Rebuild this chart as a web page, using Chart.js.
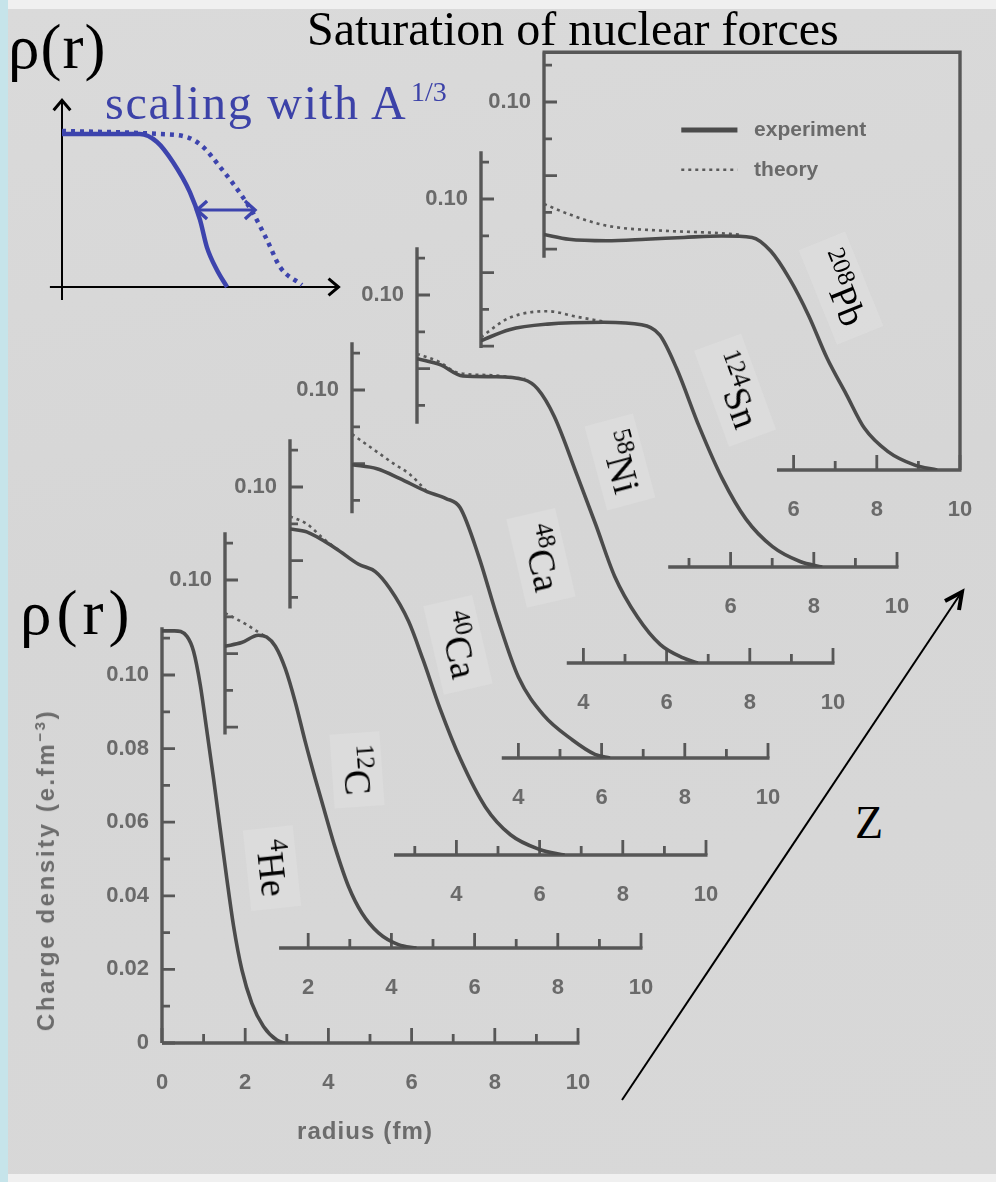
<!DOCTYPE html>
<html>
<head>
<meta charset="utf-8">
<title>Saturation of nuclear forces</title>
<script src="https://cdn.jsdelivr.net/npm/chart.js@4.4.1/dist/chart.umd.min.js"></script>
<style>
  html, body { margin: 0; padding: 0; }
  body { width: 996px; height: 1182px; position: relative; overflow: hidden; background: #f0f0f0; }
  #paper { position: absolute; left: 8px; top: 9px; right: 0; bottom: 8px;
           background: linear-gradient(170deg, #dadada 0%, #d6d6d6 45%, #d8d8d8 100%); }
  #edge { position: absolute; left: 0; top: 0; width: 8px; height: 1182px; background: #c6e4ea; }
  canvas.panel { position: absolute; filter: blur(0.55px); }
  .serif { position: absolute; font-family: "Liberation Serif", "Times New Roman", serif; line-height: 1; white-space: nowrap; color: #000; }
  .blue { color: #3c42a8; }
  .nuc { position: absolute; font-family: "Liberation Serif", "Times New Roman", serif; font-size: 38px; line-height: 1;
         white-space: nowrap; background: rgba(226,226,226,0.45); padding: 6px 12px; }
  .nuc sup { font-size: 25px; vertical-align: 0.55em; line-height: 0; }
  .scan { position: absolute; font-family: "Liberation Sans", Arial, sans-serif; color: #6c6c6c; font-weight: bold;
          line-height: 1; white-space: nowrap; filter: blur(0.6px); }
</style>
</head>
<body>
<div id="edge"></div>
<div id="paper"></div>
<div id="stage"></div>

<div class="scan" style="left:45px;top:870px;font-size:24px;letter-spacing:2.6px;transform:translate(-50%,-50%) rotate(-90deg);">Charge density (e.fm<sup style="font-size:15px">&minus;3</sup>)</div>
<div class="scan" style="left:365px;top:1131px;font-size:24px;letter-spacing:1.1px;transform:translate(-50%,-50%);">radius (fm)</div>

<canvas id="inset" class="panel" style="left:40px;top:90px;filter:none" width="330" height="225"></canvas>

<div class="serif" style="left:307px;top:5px;font-size:48px;">Saturation of nuclear forces</div>
<div class="serif" style="left:8px;top:16px;font-size:63px;letter-spacing:1px;">&rho;(r)</div>
<div class="serif" style="left:20px;top:582px;font-size:63px;letter-spacing:5px;">&rho;(r)</div>
<div class="serif blue" style="left:105px;top:79px;font-size:48px;letter-spacing:1.8px;">scaling with A</div>
<div class="serif blue" style="left:411px;top:78px;font-size:28px;">1/3</div>
<div class="serif" style="left:855px;top:800px;font-size:46px;">Z</div>

<div class="nuc" style="left:272px;top:868px;transform:translate(-50%,-50%) rotate(84deg);"><sup>4</sup>He</div>
<div class="nuc" style="left:357px;top:770px;transform:translate(-50%,-50%) rotate(86deg);"><sup>12</sup>C</div>
<div class="nuc" style="left:458px;top:645px;transform:translate(-50%,-50%) rotate(77deg);"><sup>40</sup>Ca</div>
<div class="nuc" style="left:541px;top:558px;transform:translate(-50%,-50%) rotate(77deg);"><sup>48</sup>Ca</div>
<div class="nuc" style="left:620px;top:462px;transform:translate(-50%,-50%) rotate(75deg);"><sup>58</sup>Ni</div>
<div class="nuc" style="left:735px;top:390px;transform:translate(-50%,-50%) rotate(70deg);"><sup>124</sup>Sn</div>
<div class="nuc" style="left:841px;top:288px;transform:translate(-50%,-50%) rotate(68deg);"><sup>208</sup>Pb</div>

<svg style="position:absolute;left:0;top:0" width="996" height="1182">
  <line x1="622" y1="1100" x2="961" y2="593" stroke="#000" stroke-width="2"/>
  <polyline points="945,601 962,592 959,610" fill="none" stroke="#000" stroke-width="4" stroke-linejoin="miter"/>
</svg>

<script>
// charge densities (fm^-3) against radius (fm)
const heR = [0, 0.3, 0.6, 0.76, 0.92, 1.07, 1.24, 1.4, 1.56, 1.72, 1.92, 2.16, 2.44, 2.76, 2.95];
const heExp = [0.112, 0.112, 0.1105, 0.1064, 0.0973, 0.0855, 0.0718, 0.0581, 0.0445, 0.0318, 0.0199, 0.0108, 0.0045, 0.0008, 0];

const cR = [0, 0.4, 0.8, 1.0, 1.21, 1.45, 1.69, 1.93, 2.17, 2.41, 2.65, 2.97, 3.29, 3.69, 4.17, 4.6];
const cExp = [0.082, 0.083, 0.085, 0.0845, 0.082, 0.0759, 0.0668, 0.056, 0.046, 0.0365, 0.0272, 0.0167, 0.0095, 0.0041, 0.0009, 0];
const cThR = [0, 0.5, 0.82, 1.0];
const cTh = [0.091, 0.088, 0.0857, 0.0845];

const ca40R = [0, 0.4, 1.1, 1.65, 2.05, 2.4, 2.85, 3.2, 3.6, 4.1, 4.7, 5.3, 6.0, 6.6];
const ca40Exp = [0.0886, 0.0878, 0.0833, 0.079, 0.077, 0.0724, 0.0635, 0.053, 0.040, 0.026, 0.013, 0.0055, 0.0015, 0];
const ca40ThR = [0, 0.4, 0.8, 1.2];
const ca40Th = [0.092, 0.090, 0.086, 0.0825];

const ca48R = [0, 0.6, 1.14, 1.8, 2.26, 2.6, 3.04, 3.5, 4.0, 4.6, 5.3, 5.84, 6.2];
const ca48Exp = [0.0797, 0.0786, 0.076, 0.0724, 0.0705, 0.068, 0.055, 0.038, 0.022, 0.0117, 0.0049, 0.001, 0];
const ca48ThR = [0, 0.5, 1.0, 1.4, 1.8];
const ca48Th = [0.088, 0.084, 0.080, 0.077, 0.0724];

const niR = [0, 0.57, 1.1, 1.85, 2.57, 2.9, 3.3, 3.85, 4.3, 4.75, 5.3, 5.85, 6.4, 6.75];
const niExp = [0.0827, 0.081, 0.078, 0.0778, 0.077, 0.0745, 0.067, 0.051, 0.0375, 0.0236, 0.0125, 0.005, 0.0014, 0];
const niThR = [0, 0.5, 1.0, 1.8, 2.6];
const niTh = [0.084, 0.082, 0.0788, 0.0782, 0.0772];

const snR = [0, 0.68, 1.6, 2.95, 3.86, 4.3, 4.7, 5.25, 5.8, 6.37, 7.0, 7.67, 8.2];
const snExp = [0.0615, 0.0645, 0.066, 0.0665, 0.0658, 0.063, 0.054, 0.038, 0.024, 0.013, 0.0056, 0.0015, 0];
const snThR = [0, 0.68, 1.6, 2.3, 2.95];
const snTh = [0.0625, 0.0677, 0.0695, 0.068, 0.0667];

const pbR = [0, 0.6, 1.5, 2.45, 3.36, 4.27, 5.0, 5.45, 5.9, 6.36, 6.8, 7.27, 7.7, 8.27, 8.9, 9.45];
const pbExp = [0.064, 0.0627, 0.0623, 0.0627, 0.0632, 0.0636, 0.0632, 0.0595, 0.052, 0.042, 0.0305, 0.0205, 0.0114, 0.005, 0.0014, 0];
const pbThR = [0, 0.6, 1.5, 2.9, 4.0, 4.7];
const pbTh = [0.0723, 0.0695, 0.0664, 0.065, 0.0645, 0.064];

// tick labels
const xLabelsHe = [0, 2, 4, 6, 8, 10];
const xLabelsC = [2, 4, 6, 8, 10];
const xLabelsMid = [4, 6, 8, 10];
const xLabelsHeavy = [6, 8, 10];
const yLabelsHe = ['0', '0.02', '0.04', '0.06', '0.08', '0.10'];
const yLabelsTop = ['0.10'];
const seriesNames = ['experiment', 'theory'];

// schematic inset: density profile and the same profile stretched by A^1/3
const insetR = [0, 2.7, 3.3, 3.85, 4.44, 4.79, 5.03, 5.38, 5.73];
const insetRho = [1.0, 1.0, 0.948, 0.817, 0.62, 0.44, 0.261, 0.111, 0];
const insetR2 = [0, 3.37, 4.34, 4.9, 5.49, 6.18, 6.63, 7.12, 7.57, 8.33];
const insetRho2 = [1.02, 1.0, 0.98, 0.915, 0.784, 0.614, 0.484, 0.307, 0.131, 0.013];

// ---- layout ----
const SX = 41.6;          // px per fm
const SY = 3680;          // px per fm^-3
const PLOT_W = 416, PLOT_H = 418;
const RHO_MAX = PLOT_H / SY;
// padding has to cover Chart.js' own label padding, otherwise the plot area shrinks
const Y_BOX = 80, X_BOX = 64, PAD_T = 36, PAD_R = 56;
const INK = '#4b4b4b';
const AXIS_INK = '#575757';
const TICK_INK = '#6a6a6a';
const TICK_FONT = { family: 'Liberation Sans', size: 22, weight: 'bold' };

const panels = [
  { ox: 544, oy: 470,  r: pbR,   exp: pbExp,   thR: pbThR,   th: pbTh,   xLab: xLabelsHeavy, yLab: yLabelsTop, xFrom: 5.6,  yFrom: 0.0577, yTo: 0.1135, frame: true },
  { ox: 481, oy: 567,  r: snR,   exp: snExp,   thR: snThR,   th: snTh,   xLab: xLabelsHeavy, yLab: yLabelsTop, xFrom: 4.5,  yFrom: 0.0595, yTo: 0.113 },
  { ox: 417, oy: 663,  r: niR,   exp: niExp,   thR: niThR,   th: niTh,   xLab: xLabelsMid,   yLab: yLabelsTop, xFrom: 3.6,  yFrom: 0.065,  yTo: 0.113 },
  { ox: 352, oy: 758,  r: ca48R, exp: ca48Exp, thR: ca48ThR, th: ca48Th, xLab: xLabelsMid,   yLab: yLabelsTop, xFrom: 3.6,  yFrom: 0.0665, yTo: 0.113 },
  { ox: 290, oy: 855,  r: ca40R, exp: ca40Exp, thR: ca40ThR, th: ca40Th, xLab: xLabelsMid,   yLab: yLabelsTop, xFrom: 2.5,  yFrom: 0.067,  yTo: 0.113 },
  { ox: 225, oy: 948,  r: cR,    exp: cExp,    thR: cThR,    th: cTh,    xLab: xLabelsC,     yLab: yLabelsTop, xFrom: 1.3,  yFrom: 0.058,  yTo: 0.113 },
  { ox: 162, oy: 1043, r: heR,   exp: heExp,   thR: null,    th: null,   xLab: xLabelsHe,    yLab: yLabelsHe,  xFrom: 0,    yFrom: 0,      yTo: 0.113 }
];

// axes of the scanned panels are only partly printed, with inward ticks
const partialAxes = {
  id: 'partialAxes',
  beforeDatasetsDraw(chart, args, o) {
    const { ctx, scales: { x, y } } = chart;
    const px = v => x.getPixelForValue(v);
    const py = v => y.getPixelForValue(v);
    ctx.save();
    ctx.strokeStyle = AXIS_INK;
    ctx.lineWidth = 3.4;
    ctx.beginPath();
    ctx.moveTo(px(0), py(o.yFrom));
    ctx.lineTo(px(0), py(o.yTo));
    ctx.moveTo(px(o.xFrom), py(0));
    ctx.lineTo(px(10) + 1.5, py(0));
    if (o.frame) {
      ctx.moveTo(px(0) - 1.5, py(o.yTo));
      ctx.lineTo(px(10), py(o.yTo));
      ctx.lineTo(px(10), py(0));
    }
    ctx.stroke();
    ctx.lineWidth = 2.8;
    ctx.beginPath();
    for (let k = Math.ceil(o.yFrom * 100 - 1e-6); k <= Math.floor(o.yTo * 100 + 1e-6); k++) {
      const len = k % 2 === 0 ? 13 : 8;
      ctx.moveTo(px(0), py(k / 100));
      ctx.lineTo(px(0) + len, py(k / 100));
    }
    for (let k = Math.ceil(o.xFrom); k <= 10; k++) {
      const len = k % 2 === 0 ? 15 : 9;
      ctx.moveTo(px(k), py(0));
      ctx.lineTo(px(k), py(0) - len);
    }
    ctx.stroke();
    ctx.restore();
  }
};

// legend printed inside the 208Pb frame
const innerLegend = {
  id: 'innerLegend',
  afterDatasetsDraw(chart, args, o) {
    const { ctx, scales: { x, y } } = chart;
    chart.data.datasets.forEach((ds, i) => {
      const yy = y.getPixelForValue(o.rows[i]);
      ctx.save();
      ctx.strokeStyle = ds.borderColor;
      ctx.lineWidth = i === 0 ? 5 : 2.6;
      ctx.setLineDash(ds.borderDash || []);
      ctx.beginPath();
      ctx.moveTo(x.getPixelForValue(o.lineFrom), yy);
      ctx.lineTo(x.getPixelForValue(o.lineTo), yy);
      ctx.stroke();
      ctx.setLineDash([]);
      ctx.fillStyle = TICK_INK;
      ctx.font = 'bold 21px "Liberation Sans"';
      ctx.textBaseline = 'middle';
      ctx.fillText(ds.label, x.getPixelForValue(o.textAt), yy);
      ctx.restore();
    });
  }
};

function pts(rs, vs) {
  return rs.map((r, i) => ({ x: r, y: vs[i] }));
}

function makePanel(p) {
  const cv = document.createElement('canvas');
  cv.className = 'panel';
  cv.width = Y_BOX + PLOT_W + PAD_R;
  cv.height = PAD_T + PLOT_H + X_BOX;
  cv.style.left = (p.ox - Y_BOX) + 'px';
  cv.style.top = (p.oy - PLOT_H - PAD_T) + 'px';
  document.getElementById('stage').appendChild(cv);

  const datasets = [{
    label: seriesNames[0],
    data: pts(p.r, p.exp),
    borderColor: INK,
    borderWidth: 3.6,
    cubicInterpolationMode: 'monotone',
    pointRadius: 0
  }];
  if (p.thR) {
    datasets.push({
      label: seriesNames[1],
      data: pts(p.thR, p.th),
      borderColor: '#5a5a5a',
      borderWidth: 2.6,
      borderDash: [3, 4],
      cubicInterpolationMode: 'monotone',
      pointRadius: 0
    });
  }

  new Chart(cv, {
    type: 'line',
    data: { datasets },
    options: {
      responsive: false,
      animation: false,
      devicePixelRatio: 1,
      layout: { padding: { top: PAD_T, right: PAD_R, left: 0, bottom: 0 } },
      plugins: {
        legend: { display: false },
        tooltip: { enabled: false },
        partialAxes: { xFrom: p.xFrom, yFrom: p.yFrom, yTo: p.yTo, frame: !!p.frame },
        innerLegend: { rows: [0.0924, 0.0816], lineFrom: 3.3, lineTo: 4.65, textAt: 5.05 }
      },
      scales: {
        x: {
          type: 'linear', min: 0, max: 10,
          afterFit: s => { s.height = X_BOX; },
          grid: { display: false, drawTicks: false },
          border: { display: false },
          ticks: {
            stepSize: 1, autoSkip: false, maxRotation: 0, padding: 27,
            color: TICK_INK, font: TICK_FONT,
            callback: v => {
              const k = Math.round(v);
              return Math.abs(v - k) < 1e-6 && p.xLab.includes(k) ? String(k) : '';
            }
          }
        },
        y: {
          type: 'linear', min: 0, max: RHO_MAX,
          afterFit: s => { s.width = Y_BOX; },
          grid: { display: false, drawTicks: false },
          border: { display: false },
          ticks: {
            stepSize: 0.01, autoSkip: false, padding: 13,
            color: TICK_INK, font: TICK_FONT,
            callback: v => {
              const s = p.yLab.find(l => Math.abs(Number(l) - v) < 1e-6);
              return s === undefined ? '' : s;
            }
          }
        }
      }
    },
    plugins: p.frame ? [partialAxes, innerLegend] : [partialAxes]
  });
}

panels.forEach(makePanel);

// ---- schematic inset ----
const BLUE = '#3d44ad';
const insetAxes = {
  id: 'insetAxes',
  beforeDatasetsDraw(chart) {
    const { ctx, scales: { x, y } } = chart;
    const px = v => x.getPixelForValue(v);
    const py = v => y.getPixelForValue(v);
    const arrow = (tx, ty, dx, dy, len, col, w) => {
      const a = Math.atan2(dy, dx);
      ctx.save();
      ctx.strokeStyle = col; ctx.lineWidth = w; ctx.lineJoin = 'miter';
      ctx.beginPath();
      ctx.moveTo(tx - len * Math.cos(a - 0.7), ty - len * Math.sin(a - 0.7));
      ctx.lineTo(tx, ty);
      ctx.lineTo(tx - len * Math.cos(a + 0.7), ty - len * Math.sin(a + 0.7));
      ctx.stroke();
      ctx.restore();
    };
    ctx.save();
    ctx.strokeStyle = '#000';
    ctx.lineWidth = 2;
    ctx.beginPath();
    ctx.moveTo(px(0), py(-0.085)); ctx.lineTo(px(0), py(1.22));
    ctx.moveTo(px(-0.42), py(0)); ctx.lineTo(px(9.6), py(0));
    ctx.stroke();
    ctx.restore();
    arrow(px(0), py(1.22), 0, -1, 13, '#000', 3);
    arrow(px(9.6), py(0), 1, 0, 13, '#000', 3);
  },
  afterDatasetsDraw(chart) {
    const { ctx, scales: { x, y } } = chart;
    const yy = y.getPixelForValue(0.503);
    const x1 = x.getPixelForValue(4.69), x2 = x.getPixelForValue(6.7);
    ctx.save();
    ctx.strokeStyle = BLUE; ctx.lineWidth = 3;
    ctx.beginPath(); ctx.moveTo(x1, yy); ctx.lineTo(x2, yy); ctx.stroke();
    ctx.lineWidth = 3.4;
    ctx.beginPath();
    ctx.moveTo(x1 + 10, yy - 9); ctx.lineTo(x1, yy); ctx.lineTo(x1 + 10, yy + 9);
    ctx.moveTo(x2 - 10, yy - 9); ctx.lineTo(x2, yy); ctx.lineTo(x2 - 10, yy + 9);
    ctx.stroke();
    ctx.restore();
  }
};

new Chart(document.getElementById('inset'), {
  type: 'line',
  data: {
    datasets: [
      { data: pts(insetR, insetRho), borderColor: BLUE, borderWidth: 4.5, cubicInterpolationMode: 'monotone', pointRadius: 0 },
      { data: pts(insetR2, insetRho2), borderColor: BLUE, borderWidth: 4.5, borderDash: [4, 5], cubicInterpolationMode: 'monotone', pointRadius: 0 }
    ]
  },
  options: {
    responsive: false,
    animation: false,
    devicePixelRatio: 1,
    layout: { padding: 0 },
    plugins: { legend: { display: false }, tooltip: { enabled: false } },
    scales: {
      x: { type: 'linear', display: false, min: -22 / 28.8, max: -22 / 28.8 + 330 / 28.8 },
      y: { type: 'linear', display: false, min: -28 / 153, max: 197 / 153 }
    }
  },
  plugins: [insetAxes]
});
</script>
</body>
</html>
